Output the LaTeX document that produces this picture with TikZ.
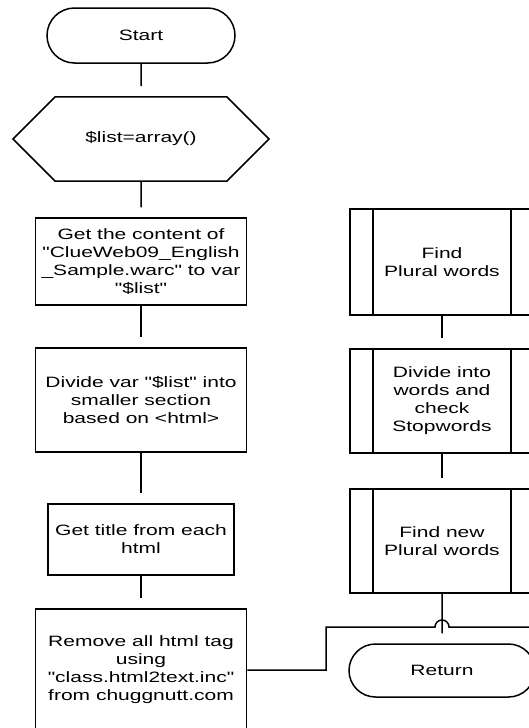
\documentclass[tikz,border=0pt]{standalone}
\usepackage{fontspec}
\newfontfamily\flowfont[FakeStretch=1.4]{Liberation Sans}
\usetikzlibrary{shapes.misc}

\tikzset{
  box/.style={draw, line width=1.5pt, align=center, inner sep=0pt,
    font=\flowfont\fontsize{15}{18}\selectfont},
  term/.style={box, rounded rectangle},
  proc/.style={box, rectangle},
  prep/.style={box, chamfered rectangle,
    chamfered rectangle xsep=45pt, chamfered rectangle ysep=35pt},
  subproc/.style={box, rectangle,
    path picture={
      \draw[line width=1.5pt]
        ([xshift=23pt]path picture bounding box.north west) -- ([xshift=23pt]path picture bounding box.south west)
        ([xshift=-23pt]path picture bounding box.north east) -- ([xshift=-23pt]path picture bounding box.south east);
    }},
  wire/.style={line width=1.5pt},
  flow/.style={wire, shorten >=10pt},
}

\begin{document}
\begin{tikzpicture}[x=1pt, y=1pt]
		\useasboundingbox (0,0) rectangle (529,-728);
		\clip (0,0) rectangle (529,-728);

		% main column
		\node[term, minimum width=188pt, minimum height=55pt] (start) at (141,-35.5) {Start};
		\node[prep, minimum width=256pt, minimum height=70pt] (init) at (141,-139) {\$list=array()};
		\node[proc, minimum width=211pt, minimum height=87pt] (load) at (141,-261.5) {Get the content of\\ "ClueWeb09\_English\\ \_Sample.warc" to var\\ "\$list"};
		\node[proc, minimum width=211pt, minimum height=104pt] (split) at (141,-400) {Divide var "\$list" into\\ smaller section\\ based on <html>};
		\node[proc, minimum width=186pt, minimum height=71pt] (title) at (141,-539.5) {Get title from each\\ html};
		\node[proc, minimum width=211pt, minimum height=122pt] (strip) at (141,-670) {Remove all html tag\\ using\\ "class.html2text.inc"\\ from chuggnutt.com};

		% second column
		\node[subproc, minimum width=184pt, minimum height=106pt] (plural) at (442,-262) {Find\\ Plural words};
		\node[subproc, minimum width=184pt, minimum height=104pt] (stop) at (442,-401) {Divide into\\ words and\\ check\\ Stopwords};
		\node[subproc, minimum width=184pt, minimum height=104pt] (newplural) at (442,-541) {Find new\\ Plural words};
		\node[term, minimum width=186pt, minimum height=53pt] (return) at (442,-670.5) {Return};

		\coordinate (jog) at (326,-627);
		\coordinate (hop) at (442,-627);
		\coordinate (offright) at (560,-627);

		\path[draw, flow] (start) -- (init);
		\path[draw, flow] (init) -- (load);
		\path[draw, flow] (load) -- (split);
		\path[draw, flow] (split) -- (title);
		\path[draw, flow] (title) -- (strip);
		\path[draw, flow] (plural) -- (stop);
		\path[draw, flow] (stop) -- (newplural);
		\path[draw, flow] (newplural) -- (return);
		\path[draw, wire] (strip.east) -| (jog) -- ([xshift=-7pt]hop) arc[start angle=180, end angle=0, radius=7pt] -- (offright);
\end{tikzpicture}
\end{document}
